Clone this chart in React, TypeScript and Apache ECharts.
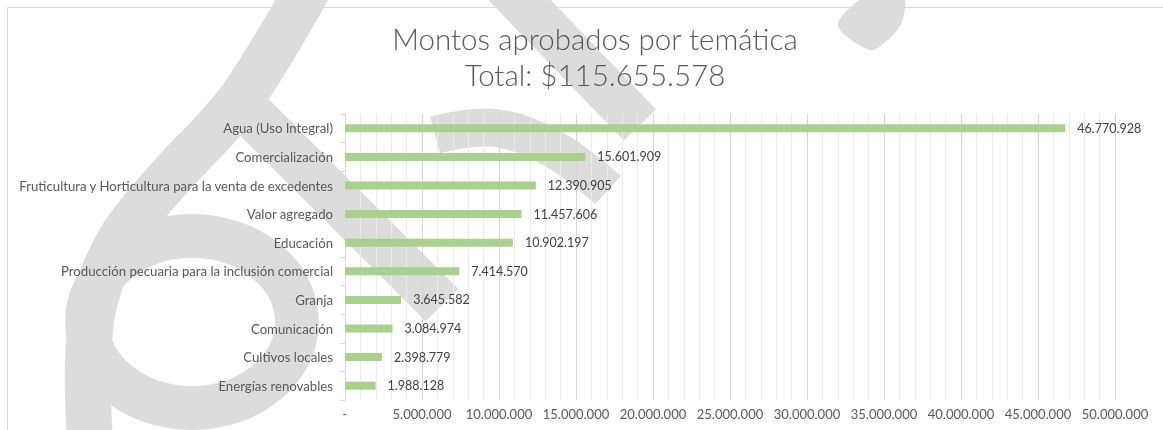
import React, { useEffect, useRef } from "react";
import * as echarts from "echarts";

const categories = [
  "Agua (Uso Integral)",
  "Comercialización",
  "Fruticultura y Horticultura para la venta de excedentes",
  "Valor agregado",
  "Educación",
  "Producción pecuaria para la inclusión comercial",
  "Granja",
  "Comunicación",
  "Cultivos locales",
  "Energías renovables",
];
const values = [46770928, 15601909, 12390905, 11457606, 10902197, 7414570, 3645582, 3084974, 2398779, 1988128];
const titleLines = ["Montos aprobados por temática", "Total: $115.655.578"];
const axisMax = 50000000;
const axisStep = 5000000;

const fmt = (v: number) => (v === 0 ? "-" : String(Math.round(v)).replace(/\B(?=(\d{3})+(?!\d))/g, "."));

const WM = "#DCDCDC";

export default function App() {
  const ref = useRef<HTMLDivElement>(null);
  useEffect(() => {
    if (!ref.current) return;
    const chart = echarts.init(ref.current, null, { renderer: "svg" });
    const wm = (o: any) => ({ z: -1, silent: true, ...o });
    chart.setOption({
      animation: false,
      title: {
        text: titleLines.join("\n"),
        left: 590,
        top: 15,
        textAlign: "center",
        textStyle: { fontFamily: "Lato", fontWeight: 300, fontSize: 29.5, lineHeight: 36, color: "#595959" },
      },
      graphic: [
        wm({
          type: "polyline",
          shape: { points: [[310, -15], [240, 100], [165, 183], [120, 240], [95, 300], [88, 360], [90, 445]], smooth: 0.35 },
          style: { stroke: WM, lineWidth: 46, fill: "none" },
        }),
        wm({
          type: "ellipse",
          shape: { cx: 192, cy: 322, rx: 105, ry: 86 },
          style: { stroke: WM, lineWidth: 44, fill: "none" },
        }),
        wm({ type: "line", shape: { x1: 235, y1: 98, x2: 442, y2: 305 }, style: { stroke: WM, lineWidth: 46 } }),
        wm({ type: "line", shape: { x1: 505, y1: -15, x2: 640, y2: 125 }, style: { stroke: WM, lineWidth: 45 } }),
        wm({
          type: "polyline",
          shape: { points: [[435, 135], [495, 128], [555, 150], [608, 190]], smooth: 0.4 },
          style: { stroke: WM, lineWidth: 38, fill: "none" },
        }),
        wm({
          type: "polygon",
          shape: { points: [[838, 25], [868, -5], [903, -5], [902, 22], [888, 40], [870, 50]], smooth: 0.3 },
          style: { fill: WM },
        }),
        {
          type: "rect",
          z: 100,
          silent: true,
          shape: { x: 7.5, y: 7.5, width: 1300, height: 600 },
          style: { fill: "none", stroke: "#D9D9D9", lineWidth: 1 },
        },
      ],
      grid: { left: 345, right: 48, top: 114, bottom: 30, containLabel: false },
      xAxis: {
        type: "value",
        min: 0,
        max: axisMax,
        interval: axisStep,
        axisLine: { show: false },
        axisTick: { show: false },
        axisLabel: { formatter: fmt, color: "#595959", fontSize: 13, fontFamily: "Lato", margin: 7 },
        splitLine: { show: true, lineStyle: { color: "#D6D6D6", width: 1 } },
        minorTick: { show: false, splitNumber: 5 },
        minorSplitLine: { show: true, lineStyle: { color: "#EBEBEB", width: 1 } },
      },
      yAxis: {
        type: "category",
        inverse: true,
        data: categories,
        axisLine: { show: true, lineStyle: { color: "#D9D9D9" } },
        axisTick: { show: true, length: 5, lineStyle: { color: "#D9D9D9" } },
        axisLabel: { color: "#595959", fontSize: 13.2, fontFamily: "Lato", margin: 12 },
      },
      series: [
        {
          type: "bar",
          data: values,
          barWidth: 8,
          itemStyle: { color: "#A9D18E" },
          label: {
            show: true,
            position: "right",
            distance: 12,
            formatter: (p: any) => fmt(p.value),
            color: "#404040",
            fontSize: 12.5,
            fontFamily: "Lato",
          },
        },
      ],
    });
    return () => chart.dispose();
  }, []);
  return <div ref={ref} style={{ position: "fixed", left: 0, top: 0, width: 1163, height: 430 }} />;
}
